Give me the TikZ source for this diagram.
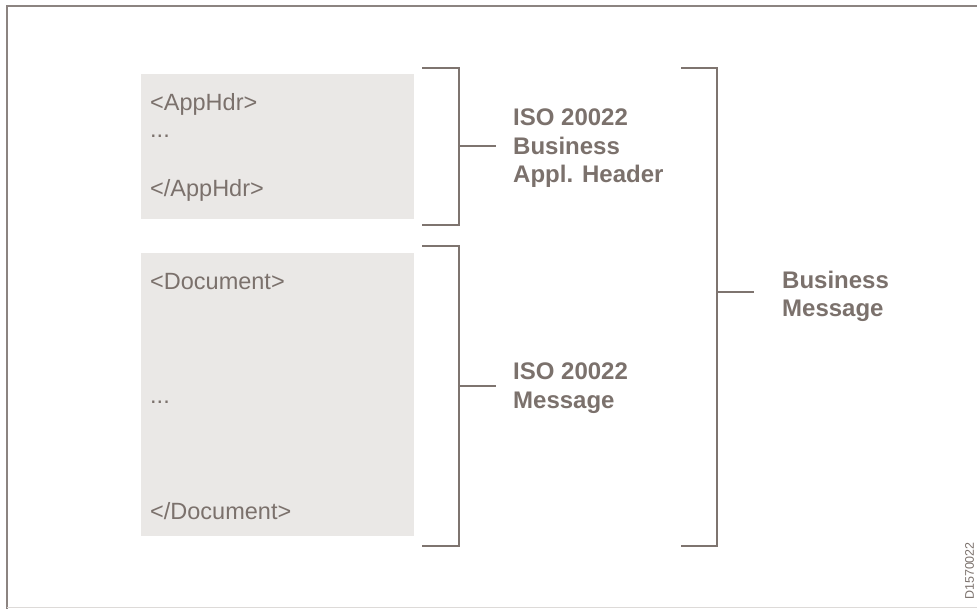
\documentclass[tikz,border=0pt]{standalone}
\usepackage{fontspec}
\setmainfont{Liberation Sans}
\definecolor{tgrey}{HTML}{7B716C}
\definecolor{lgrey}{HTML}{7E746F}
\definecolor{boxfill}{HTML}{EAE8E6}
\definecolor{frameg}{HTML}{8C8481}
\definecolor{frameb}{HTML}{DDDAD8}
\begin{document}
\begin{tikzpicture}[x=1pt,y=-1pt,
  codebox/.style={fill=boxfill,draw=none},
  code/.style={anchor=base west,inner sep=0pt,text=tgrey,font=\fontsize{23.5}{28}\selectfont},
  lbl/.style={anchor=base west,inner sep=0pt,text=tgrey,font=\fontsize{24}{28.5}\selectfont\bfseries},
  brk/.style={draw=lgrey,line width=2.4pt,line join=miter},
  frame/.style={draw=frameg,line width=1.6pt}]
\useasboundingbox (0,0) rectangle (977,609);
% frame
\draw[frame] (977,6) -- (7,6) -- (7,609);
\draw[draw=frameb,line width=1.2pt] (7,607.5) -- (977,607.5);
% boxes
\fill[codebox] (141,74) rectangle (414,219);
\fill[codebox] (141,253) rectangle (414,536);
\node[code] (a1) at (150,111) {<AppHdr>};
\node[code] (a2) at (150,138) {...};
\node[code] (a3) at (150,197) {</AppHdr>};
\node[code] (d1) at (150,290) {<Document>};
\node[code] (d2) at (150,403) {...};
\node[code] (d3) at (150,519) {</Document>};
% brackets
\coordinate (b1t) at (422,68);
\coordinate (b1b) at (422,225);
\coordinate (b1m) at (496,146);
\draw[brk] (b1t) -- (459,68) -- (459,225) -- (b1b);
\draw[brk] (459,146) -- (b1m);
\coordinate (b2t) at (422,246);
\coordinate (b2b) at (422,546);
\coordinate (b2m) at (496,386);
\draw[brk] (b2t) -- (459,246) -- (459,546) -- (b2b);
\draw[brk] (459,386) -- (b2m);
\coordinate (b3t) at (681,68);
\coordinate (b3b) at (681,546);
\coordinate (b3m) at (754,292);
\draw[brk] (b3t) -- (717,68) -- (717,546) -- (b3b);
\draw[brk] (717,292) -- (b3m);
% labels
\node[lbl] (h1) at (513,126) {ISO 20022};
\node[lbl] (h2) at (513,154.5) {Business};
\node[lbl] (h3) at (513,183) {Appl. Header};
\node[lbl] (m1) at (513,380) {ISO 20022};
\node[lbl] (m2) at (513,408.5) {Message};
\node[lbl] (bm1) at (782,288.5) {Business};
\node[lbl] (bm2) at (782,317) {Message};
% code id
\node[rotate=90,inner sep=0pt,text=tgrey,font=\fontsize{12.5}{14}\selectfont] (id) at (969.5,571) {D1570022};
\end{tikzpicture}
\end{document}
